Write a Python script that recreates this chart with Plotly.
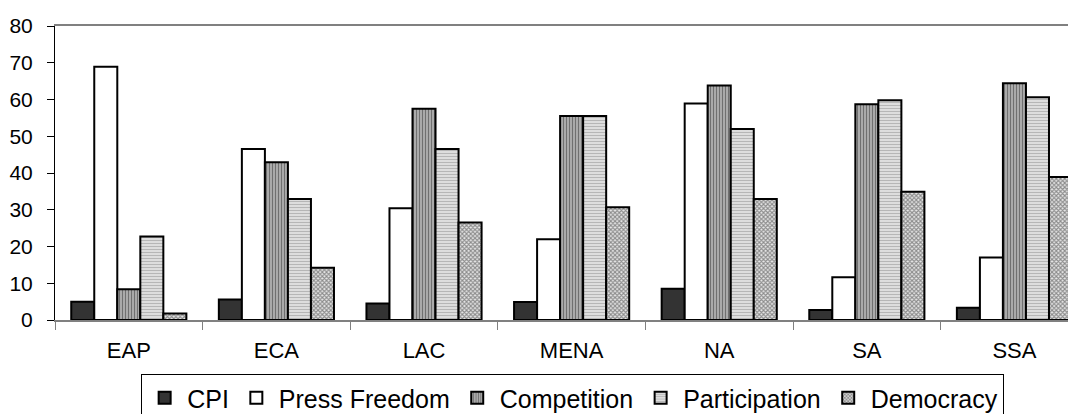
import plotly.graph_objects as go

regions = ["EAP", "ECA", "LAC", "MENA", "NA", "SA", "SSA"]
cpi = [5.0, 5.6, 4.5, 4.9, 8.5, 2.7, 3.3]
press_freedom = [68.9, 46.5, 30.4, 22.0, 58.9, 11.6, 17.0]
competition = [8.4, 42.9, 57.5, 55.5, 63.8, 58.7, 64.4]
participation = [22.7, 32.9, 46.5, 55.5, 52.0, 59.8, 60.6]
democracy = [1.8, 14.2, 26.5, 30.7, 32.9, 34.9, 38.9]

series = [
    ("CPI", cpi, dict(color="#333333")),
    ("Press Freedom", press_freedom, dict(color="#ffffff")),
    ("Competition", competition, dict(color="#9a9a9a",
        pattern=dict(shape="|", fgcolor="#303030", bgcolor="#b0b0b0", size=3, solidity=0.4))),
    ("Participation", participation, dict(color="#d0d0d0",
        pattern=dict(shape="-", fgcolor="#8a8a8a", bgcolor="#e2e2e2", size=3, solidity=0.4))),
    ("Democracy", democracy, dict(color="#a0a0a0",
        pattern=dict(shape="x", fgcolor="#303030", bgcolor="#e8e8e8", size=3, solidity=0.6))),
]

fig = go.Figure()
for name, vals, mk in series:
    mk = dict(mk)
    mk["line"] = dict(color="#000000", width=2)
    fig.add_trace(go.Bar(name=name, x=regions, y=vals, marker=mk))

fig.update_layout(
    width=1068, height=406,
    paper_bgcolor="white", plot_bgcolor="white",
    barmode="group", bargap=0.22, bargroupgap=0,
    margin=dict(l=47, r=0, t=18, b=94, autoexpand=False),
    font=dict(family="Liberation Sans, Arial, sans-serif", color="#000000"),
    showlegend=True,
    legend=dict(
        orientation="h", x=0.507, xanchor="center", y=-0.184, yanchor="top",
        bordercolor="#000000", borderwidth=1, bgcolor="white",
        font=dict(size=25), traceorder="normal", itemwidth=35,
    ),
)
fig.update_xaxes(
    type="category", range=[-0.5, 6.417],
    showline=True, linecolor="#808080", linewidth=2, mirror=True,
    ticks="outside", tickson="boundaries", ticklen=8, tickcolor="#808080", tickwidth=1,
    tickfont=dict(size=22), ticklabelstandoff=10, showgrid=False, zeroline=False,
)
fig.update_yaxes(
    range=[0, 80], dtick=10, tick0=0,
    showline=True, linecolor="#000000", linewidth=1,
    ticks="outside", ticklen=7, tickcolor="#000000",
    tickfont=dict(size=21), ticklabelstandoff=10, showgrid=False, zeroline=False,
)

fig.write_html("out.html")
